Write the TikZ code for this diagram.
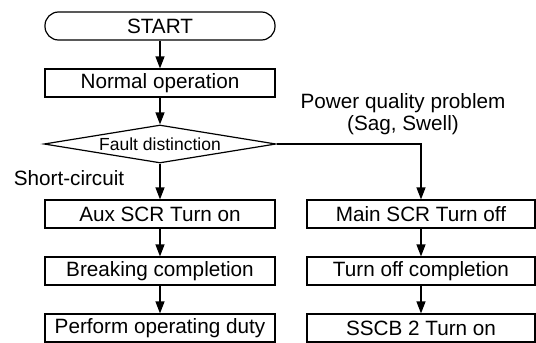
\documentclass[tikz,border=0pt]{standalone}
\usepackage{fontspec}
\setmainfont{Liberation Sans}
\usetikzlibrary{shapes.geometric,arrows.meta}
\begin{document}
\begin{tikzpicture}[x=1pt,y=-1pt,
  every node/.style={font=\fontsize{20.7pt}{23pt}\selectfont},
  procbox/.style={draw,line width=1.2pt,minimum width=230pt,minimum height=28pt,inner sep=0pt},
  startbox/.style={procbox,rounded corners=13.5pt},
  decbox/.style={draw,line width=1.2pt,shape=diamond,aspect=6.1,minimum width=232pt,minimum height=38pt,inner sep=0pt,font=\fontsize{17.5pt}{20pt}\selectfont},
  lbl/.style={inner sep=0pt},
  flow/.style={line width=1.2pt,-{Triangle[length=12pt,width=9pt]}}]
\useasboundingbox (0,0) rectangle (536,343);
\node[startbox] (start) at (160,26) {START};
\node[procbox] (normal) at (160,83) {Normal operation};
\node[decbox] (fault) at (160,144) {Fault distinction};
\node[procbox] (aux) at (160,214) {Aux SCR Turn on};
\node[procbox] (brk) at (160,271) {Breaking completion};
\node[procbox] (duty) at (160,328) {Perform operating duty};
\node[procbox,minimum width=228pt] (main) at (421,214) {Main SCR Turn off};
\node[procbox,minimum width=228pt] (off) at (421,271) {Turn off completion};
\node[procbox,minimum width=228pt] (sscb) at (421,328) {SSCB 2 Turn on};
\node[lbl] (sc) at (69,178) {Short-circuit};
\node[lbl] (pq1) at (403,103) {Power quality problem};
\node[lbl] (pq2) at (403,125) {(Sag, Swell)};
\draw[flow] (start) -- (normal);
\draw[flow] (normal) -- (fault);
\draw[flow] (fault) -- (aux);
\draw[flow] (aux) -- (brk);
\draw[flow] (brk) -- (duty);
\draw[flow] (fault.east) -| (main.north);
\draw[flow] (main) -- (off);
\draw[flow] (off) -- (sscb);
\end{tikzpicture}
\end{document}
